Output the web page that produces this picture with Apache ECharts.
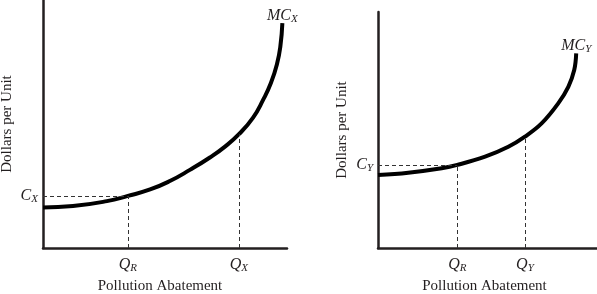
<!DOCTYPE html>
<html><head><meta charset="utf-8">
<script src="https://cdn.jsdelivr.net/npm/echarts@6/dist/echarts.min.js"></script>
<style>html,body{margin:0;padding:0;background:#fff}#c{width:597px;height:294px}</style>
</head><body><div id="c"></div>
<script>
// Left panel (firm X)
const xLeft = [0, 12.3, 26.2, 34.8, 43.9, 52.0, 60.2, 68.4, 74.6, 80.3, 86.1, 90.2, 93.4, 95.9, 97.3, 98.1];
const mcX   = [16.3, 16.9, 18.9, 21.0, 23.6, 27.0, 31.5, 36.5, 40.9, 45.9, 52.6, 59.7, 66.5, 74.2, 81.5, 90.7];
const qLeftTicks = [34.8, 80.3];
const qLeftLabels = ['R', 'X'];
const cX = 21.0;
const mcXTop = 45.9; // MC at Q_X

// Right panel (firm Y)
const xRight = [0, 13.8, 29.1, 36.2, 48.9, 59.5, 67.1, 74.7, 82.3, 86.9, 89.6, 90.5];
const mcY    = [30.9, 31.9, 33.8, 35.2, 38.7, 42.9, 47.2, 52.8, 61.3, 68.3, 75.4, 82.5];
const qRightTicks = [36.2, 67.1];
const qRightLabels = ['R', 'Y'];
const cY = 35.2;
const mcYTop = 47.2; // MC at Q_Y

const xName = 'Pollution Abatement';
const yName = 'Dollars per Unit';

const FONT = '"Liberation Serif", "DejaVu Serif", serif';
const INK = '#231f20';

const rich = {
  i: {fontFamily: FONT, fontStyle: 'italic', fontSize: 16, color: INK},
  s: {fontFamily: FONT, fontStyle: 'italic', fontSize: 11, color: INK, padding: [7, 0, 0, 0]}
};

function xAxisDef(idx, ticks, labels, shift) {
  return {
    type: 'value', gridIndex: idx, min: 0, max: 100,
    name: xName, nameLocation: 'middle', nameGap: 30,
    nameTextStyle: {fontFamily: FONT, fontSize: 15, color: INK, padding: [0, shift, 0, 0]},
    axisLine: {show: true, onZero: false, lineStyle: {color: INK, width: 2.5}},
    axisTick: {show: false}, splitLine: {show: false},
    axisLabel: {
      customValues: ticks, margin: 8, rich: rich,
      formatter: v => { const k = ticks.indexOf(v); return '{i|Q}{s|' + (k >= 0 ? labels[k] : '') + '}'; }
    }
  };
}
function yAxisDef(idx, cval, sub) {
  return {
    type: 'value', gridIndex: idx, min: 0, max: 100,
    name: yName, nameLocation: 'middle', nameGap: 28,
    nameTextStyle: {fontFamily: FONT, fontSize: 15, color: INK},
    axisLine: {show: true, onZero: false, lineStyle: {color: INK, width: 2.5}},
    axisTick: {show: false}, splitLine: {show: false},
    axisLabel: {
      customValues: [cval], margin: 5, rich: rich,
      formatter: () => '{i|C}{s|' + sub + '}'
    }
  };
}

function curveData(xs, ys) {
  return xs.map((x, k) => [x, ys[k]]);
}
function endMark(xs, ys, sub) {
  const n = xs.length - 1;
  return {
    silent: true, symbol: 'circle', symbolSize: 1,
    itemStyle: {color: 'rgba(0,0,0,0)'},
    label: {show: true, position: 'top', distance: 1, offset: [0, 3],
            formatter: '{i|MC}{s|' + sub + '}', rich: rich},
    data: [{coord: [xs[n], ys[n]]}]
  };
}

const dash = {type: [4, 3], color: '#333', width: 1};
function guides(qs, cval, tops) {
  return {
    symbol: 'none', silent: true, label: {show: false}, lineStyle: dash,
    data: [
      [{coord: [0, cval]}, {coord: [qs[0], cval]}],
      [{coord: [qs[0], 0]}, {coord: [qs[0], cval]}],
      [{coord: [qs[1], 0]}, {coord: [qs[1], tops]}]
    ]
  };
}

const chart = echarts.init(document.getElementById('c'), null, {renderer: 'canvas'});
chart.setOption({
  animation: false,
  backgroundColor: '#fff',
  grid: [
    {left: 43, top: 0, width: 244, height: 248, outerBoundsMode: 'none', containLabel: false},
    {left: 378, top: 12, width: 219, height: 236, outerBoundsMode: 'none', containLabel: false}
  ],
  xAxis: [xAxisDef(0, qLeftTicks, qLeftLabels, 10), xAxisDef(1, qRightTicks, qRightLabels, 6)],
  yAxis: [yAxisDef(0, cX, 'X'), yAxisDef(1, cY, 'Y')],
  series: [
    {type: 'line', xAxisIndex: 0, yAxisIndex: 0, data: curveData(xLeft, mcX),
     smooth: 0.5, showSymbol: false, symbol: 'none', lineStyle: {color: '#000', width: 4},
     markLine: guides(qLeftTicks, cX, mcXTop), markPoint: endMark(xLeft, mcX, 'X'), z: 3},
    {type: 'line', xAxisIndex: 1, yAxisIndex: 1, data: curveData(xRight, mcY),
     smooth: 0.4, showSymbol: false, symbol: 'none', lineStyle: {color: '#000', width: 4},
     markLine: guides(qRightTicks, cY, mcYTop), markPoint: endMark(xRight, mcY, 'Y'), z: 3}
  ]
});
</script></body></html>
